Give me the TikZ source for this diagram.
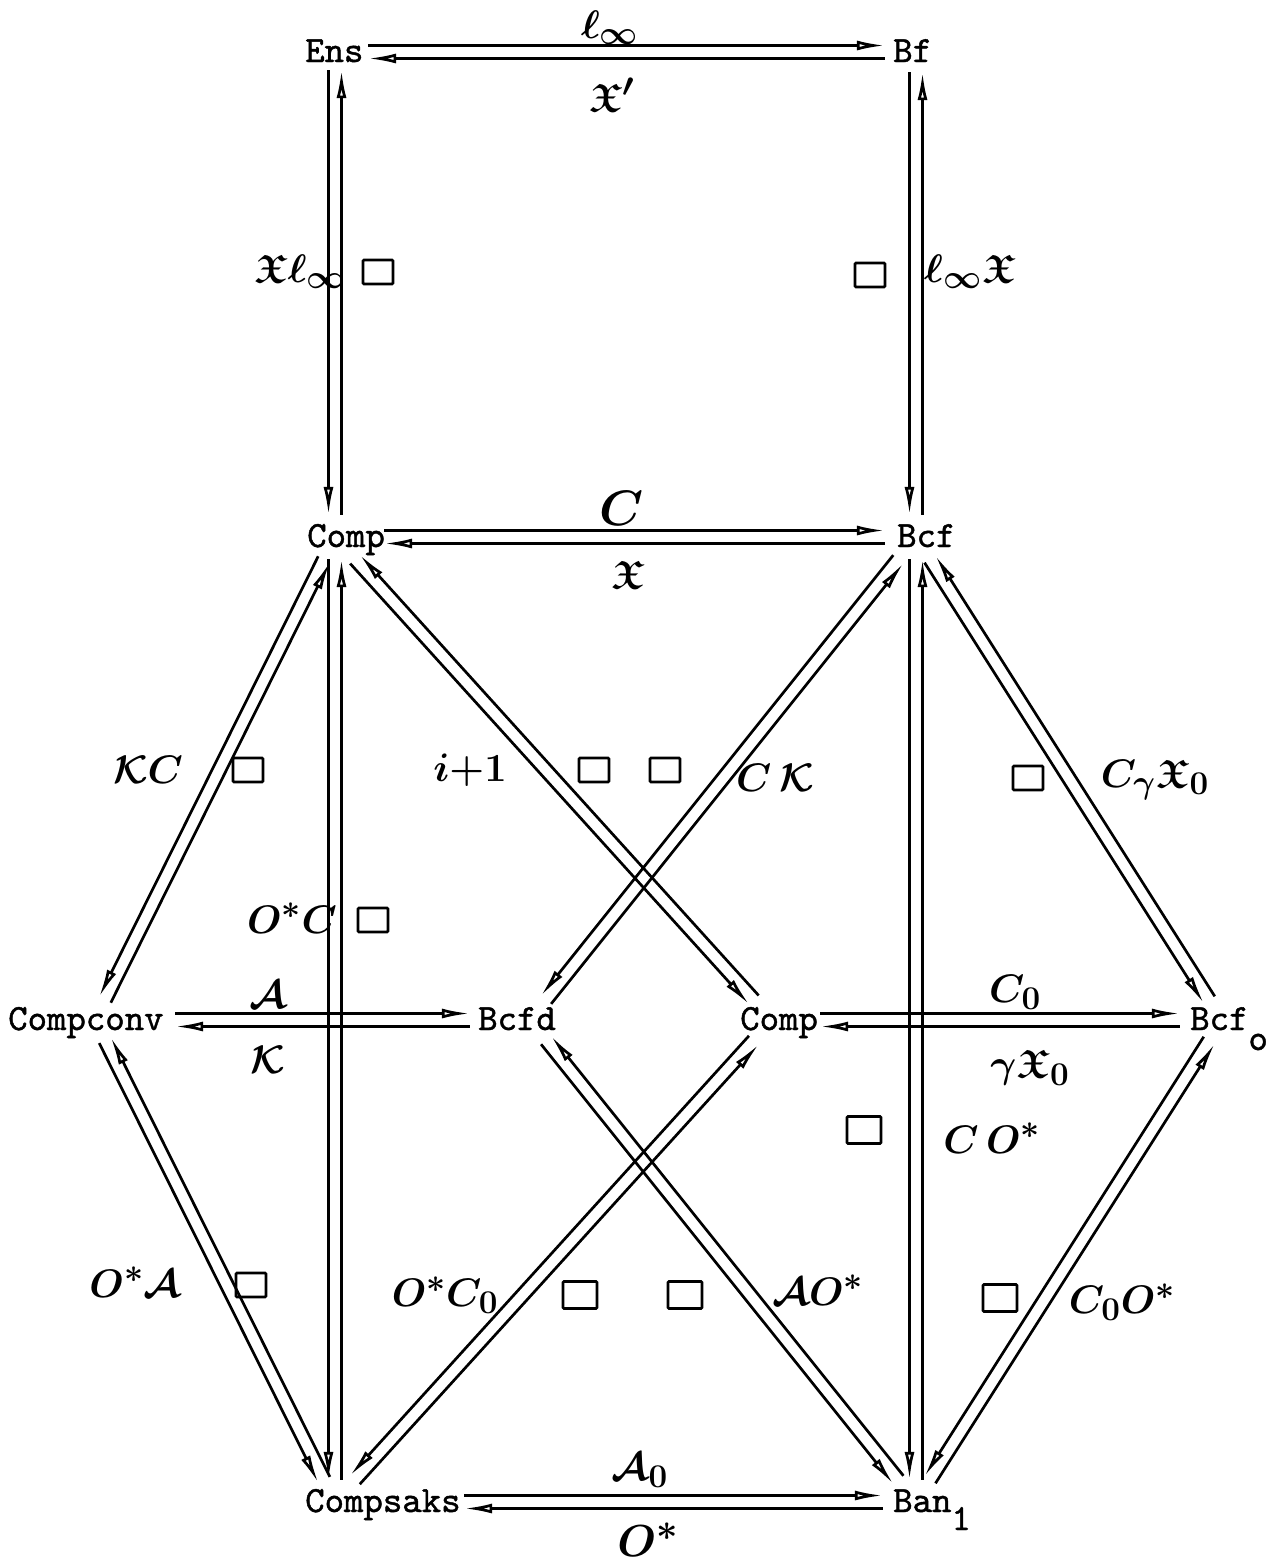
\documentclass[tikz,border=0pt]{standalone}
\usepackage{fontspec}
\usepackage{amssymb}
\newfontfamily\twfont{lmmono10-regular}[Extension=.otf, FakeBold=1.2]
\usetikzlibrary{arrows.meta,calc}
\tikzset{
  hub/.style 2 args={rectangle, draw=none, inner sep=0pt, minimum width=#1, minimum height=#2},
  obj/.style={font=\twfont\fontsize{37}{40}\selectfont, inner sep=0pt, anchor=base west},
  lab/.style={inner sep=0pt, font=\fontsize{24.88}{30}\selectfont\boldmath},
  arr/.style={line width=2.7pt, -{Latex[open,length=28pt,width=10pt]}},
  sq/.style={draw, line width=2.6pt, minimum width=30pt, minimum height=24pt, inner sep=0pt, rounded corners=1pt},
  bsq/.style={sq, minimum width=34pt, minimum height=27pt},
}
\newcommand\dualarrow[4]{%
  \path (#1) -- (#2) coordinate[pos=0] (dA) coordinate[pos=1] (dB);
  \draw[arr] ($(dA)!6.5pt!#3:(dB)$) -- ($(dB)!6.5pt!#4:(dA)$);
  \draw[arr] ($(dB)!6.5pt!#3:(dA)$) -- ($(dA)!6.5pt!#4:(dB)$);
}
\begin{document}
\begin{tikzpicture}[x=1pt,y=-1pt]
\fill[white] (0,0) rectangle (1272,1566);
\useasboundingbox (0,0) rectangle (1272,1566);

% connection hubs
\node[hub={66}{36}]  (Ens)      at (335,52)   {};
\node[hub={62}{40}]  (Bf)       at (916,52)   {};
\node[hub={98}{44}]  (Comp)     at (335,537)  {};
\node[hub={62}{44}]  (Bcf)      at (916,537)  {};
\node[hub={160}{40}] (Compconv) at (95,1020)  {};
\node[hub={120}{40}] (Bcfd)     at (530,1020) {};
\node[hub={96}{40}]  (Compm)    at (772,1020) {};
\node[hub={84}{40}]  (Bcfo)     at (1222,1020) {};
\node[hub={258}{44}] (Compsaks) at (335,1502) {};
\node[hub={66}{44}]  (Ban)      at (916,1502) {};

% object names
\node[obj] (tEns)      at (305,62)   {Ens};
\node[obj] (tBf)       at (893,62)   {Bf};
\node[obj] (tComp)     at (307,547)  {Comp};
\node[obj] (tBcf)      at (897,547)  {Bcf};
\node[obj] (tCompconv) at (8,1030)   {Compconv};
\node[obj] (tBcfd)     at (478,1030) {Bcfd};
\node[obj] (tCompm)    at (740,1030) {Comp};
\node[obj] (tBcfo)     at (1190,1030) {Bcf\raisebox{-20pt}{o}};
\node[obj] (tCompsaks) at (305,1512) {Compsaks};
\node[obj] (tBan)      at (893,1512) {Ban\raisebox{-18pt}{1}};

% horizontal pairs
\dualarrow{Ens}{Bf}{90}{-90}
\dualarrow{Comp}{Bcf}{90}{-90}
\dualarrow{Compconv}{Bcfd}{90}{-90}
\dualarrow{Compm}{Bcfo}{90}{-90}
\dualarrow{Compsaks}{Ban}{90}{-90}
% vertical and slanted pairs
\dualarrow{Ens}{Comp}{-90}{90}
\dualarrow{Bf}{Bcf}{-90}{90}
\dualarrow{Comp}{Compconv}{-90}{90}
\dualarrow{Comp}{Compsaks}{-90}{90}
\dualarrow{Comp}{Compm}{-90}{90}
\dualarrow{Bcf}{Bcfd}{-90}{90}
\dualarrow{Bcf}{Ban}{-90}{90}
\dualarrow{Bcf}{Bcfo}{-90}{90}
\dualarrow{Compconv}{Compsaks}{-90}{90}
\dualarrow{Compm}{Compsaks}{-90}{90}
\dualarrow{Bcfd}{Ban}{-90}{90}
\dualarrow{Bcfo}{Ban}{-90}{90}

% functor labels
\node[lab] (l1)  at (610,28)   {\scalebox{1.6}{$\ell_\infty$}};
\node[lab] (l2)  at (612,95)   {\scalebox{1.6}{$\mathfrak{X}'$}};
\node[lab] (l3)  at (300,272)  {\scalebox{1.6}{$\mathfrak{X}\ell_\infty$}};
\node[lab] (l4)  at (970,272)  {\scalebox{1.6}{$\ell_\infty\mathfrak{X}$}};
\node[lab] (l5)  at (622,508)  {\scalebox{2}{$C$}};
\node[lab] (l6)  at (628,575)  {\scalebox{1.6}{$\mathfrak{X}$}};
\node[lab] (l7)  at (148,770)  {\scalebox{1.6}{$\mathcal{K}C$}};
\node[lab] (l8)  at (470,770)  {\scalebox{1.6}{$i{+}1$}};
\node[lab] (l9)  at (775,778)  {\scalebox{1.6}{$C\,\mathcal{K}$}};
\node[lab] (l10) at (1155,780) {\scalebox{1.6}{$C_\gamma\mathfrak{X}_0$}};
\node[lab] (l11) at (292,918)  {\scalebox{1.6}{$O^*C$}};
\node[lab] (l12) at (268,995)  {\scalebox{1.6}{$\mathcal{A}$}};
\node[lab] (l13) at (268,1060) {\scalebox{1.6}{$\mathcal{K}$}};
\node[lab] (l14) at (1015,992) {\scalebox{1.6}{$C_0$}};
\node[lab] (l15) at (1030,1068) {\scalebox{1.6}{$\gamma\mathfrak{X}_0$}};
\node[lab] (l16) at (992,1138) {\scalebox{1.6}{$C\,O^*$}};
\node[lab] (l17) at (135,1282) {\scalebox{1.6}{$O^*\mathcal{A}$}};
\node[lab] (l18) at (445,1295) {\scalebox{1.6}{$O^*C_0$}};
\node[lab] (l19) at (818,1290) {\scalebox{1.6}{$\mathcal{A}O^*$}};
\node[lab] (l20) at (1122,1302) {\scalebox{1.6}{$C_0O^*$}};
\node[lab] (l21) at (640,1470) {\scalebox{1.6}{$\mathcal{A}_0$}};
\node[lab] (l22) at (648,1540) {\scalebox{1.8}{$O^*$}};

% commutativity squares
\node[sq]  (s1)  at (378,272)  {};
\node[sq]  (s2)  at (870,275)  {};
\node[sq]  (s3)  at (248,770)  {};
\node[sq]  (s4)  at (594,770)  {};
\node[sq]  (s5)  at (665,770)  {};
\node[sq]  (s6)  at (1028,778) {};
\node[sq]  (s7)  at (373,920)  {};
\node[bsq] (s8)  at (864,1130) {};
\node[sq]  (s9)  at (251,1285) {};
\node[bsq] (s10) at (580,1295) {};
\node[bsq] (s11) at (685,1295) {};
\node[bsq] (s12) at (1000,1298) {};
\end{tikzpicture}
\end{document}
